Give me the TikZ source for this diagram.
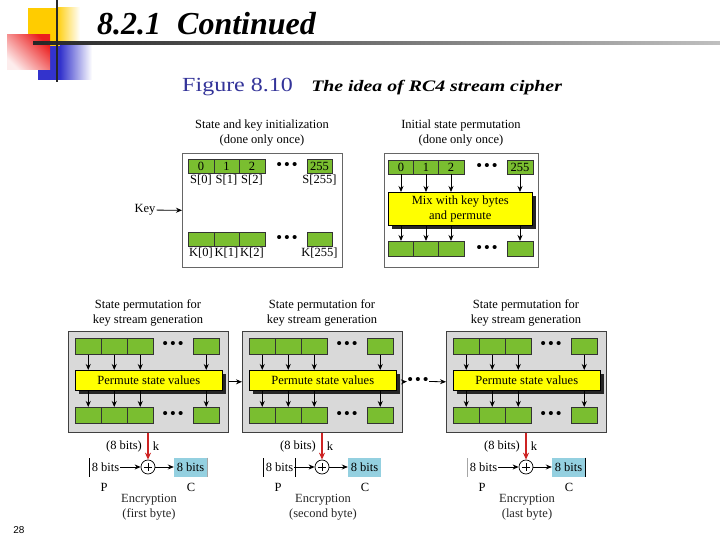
\documentclass[tikz,border=0pt]{standalone}
\usepackage{fontspec}
\setmainfont{Liberation Serif}
\setsansfont{Liberation Sans}
\usetikzlibrary{arrows.meta,shadows}
\definecolor{cgreen}{RGB}{122,190,48}
\definecolor{cyellow}{RGB}{255,255,0}
\definecolor{cgray}{RGB}{217,217,217}
\definecolor{cblue}{RGB}{148,208,224}
\definecolor{cred}{RGB}{205,35,35}
\definecolor{ctitle}{RGB}{51,51,153}
\definecolor{cgold}{RGB}{255,204,0}
\definecolor{cdeepblue}{RGB}{51,51,204}
\definecolor{cbright}{RGB}{235,30,30}
\tikzset{
  ft/.style={font=\fontsize{12.5}{15}\selectfont},
  txt/.style={ft, inner sep=1pt},
  cellbase/.style={draw=black!80, line width=0.5pt, fill=cgreen, inner sep=0pt, anchor=north west, ft},
  topcell/.style={cellbase, minimum width=25.5pt, minimum height=14pt},
  gcell/.style={cellbase, minimum width=26pt, minimum height=16pt},
  outerbox/.style={draw=black!60, fill=white, line width=0.6pt, anchor=north west, inner sep=0pt},
  graybox/.style={draw=black!75, fill=cgray, line width=0.6pt, anchor=north west, inner sep=0pt},
  ybox/.style={draw=black, fill=cyellow, line width=0.5pt, anchor=north west, inner sep=0pt, ft, align=center,
    drop shadow={shadow xshift=3.5pt, shadow yshift=-3.5pt, fill=black!85, opacity=1}},
  dotsn/.style={font=\fontsize{15}{15}\selectfont\bfseries, inner sep=0.5pt},
  arr/.style={-{Stealth[length=6pt,width=5pt]}, line width=0.8pt, black},
  redarr/.style={-{Stealth[length=7pt,width=6pt]}, line width=1.4pt, cred},
  xor/.style={circle, draw=black, line width=0.7pt, minimum size=14pt, inner sep=0pt, fill=white},
  cbox/.style={fill=cblue, minimum width=33pt, minimum height=19pt, inner sep=0pt, ft},
  bar/.style={line width=0.6pt, black}
}
\newcommand\ksbox[2]{%
  \node[txt, align=center] (#1ttl) at (#2+80,312.5) {State permutation for\\key stream generation};
  \node[graybox, minimum width=160pt, minimum height=101pt] (#1box) at (#2,331) {};
  \node[gcell] (#1a0) at (#2+7,338) {};
  \node[gcell] (#1a1) at (#2+33,338) {};
  \node[gcell] (#1a2) at (#2+59,338) {};
  \node[gcell] (#1a3) at (#2+125,338) {};
  \node[dotsn] (#1ad) at (#2+105,345) {•\,•\,•};
  \node[ybox, minimum width=147pt, minimum height=20pt] (#1y) at (#2+7,370) {Permute state values};
  \node[gcell] (#1b0) at (#2+7,407) {};
  \node[gcell] (#1b1) at (#2+33,407) {};
  \node[gcell] (#1b2) at (#2+59,407) {};
  \node[gcell] (#1b3) at (#2+125,407) {};
  \node[dotsn] (#1bd) at (#2+105,415) {•\,•\,•};
  \foreach \j in {0,1,2,3}{
    \draw[arr] (#1a\j.south) -- (#1a\j.south |- #1y.north);
    \draw[arr] (#1b\j.north |- #1y.south) -- (#1b\j.north);
  }
}
\newcommand\encr[3]{%
  \node[xor] (#1x) at (#2,467) {};
  \draw[line width=0.7pt] (#1x.center) +(-4.2,0) -- +(4.2,0);
  \draw[line width=0.7pt] (#1x.center) +(0,-4.2) -- +(0,4.2);
  \node[txt] (#1bits) at (#2-24,446) {(8 bits)};
  \node[txt] (#1k) at (#2+8,446) {k};
  \node[txt] (#1p) at (#2-42.5,467) {8 bits};
  \node[cbox] (#1c) at (#2+42.5,467) {8 bits};
  \node[txt] (#1pl) at (#2-44,487) {P};
  \node[txt] (#1cl) at (#2+43,487) {C};
  \node[txt, align=center, text=black!85] (#1cap) at (#2+1,507) {Encryption\\(#3)};
  \draw[arr] (#1p) -- (#1x);
  \draw[arr] (#1x) -- (#1c);
}
\begin{document}
\begin{tikzpicture}[x=1pt,y=-1pt]
\useasboundingbox (0,0) rectangle (720,540);
\fill[white] (0,0) rectangle (720,540);
% ---- slide decoration
\fill[cgold] (28,8) rectangle (56,46);
\shade[left color=cgold, right color=white] (56,8) rectangle (80,46);
\fill[cdeepblue] (38,46) rectangle (60,80);
\shade[left color=cdeepblue, right color=white] (60,46) rectangle (92,80);
\shade[top color=cbright, bottom color=cbright!8, shading angle=-45] (7,35) rectangle (50,70);
\shade[left color=black!85, right color=black!25] (33,41.6) rectangle (720,44.6);
\draw[line width=2.5pt, black!85] (57,0) -- (57,82);
% ---- headings
\node[anchor=base west, inner sep=0pt, font=\fontsize{32}{36}\selectfont\bfseries\itshape] (head) at (97,35) {8.2.1\ \ Continued};
\node[anchor=base west, inner sep=0pt, xscale=1.2, text=ctitle, font=\fontsize{20}{24}\selectfont] (fig) at (182,92) {Figure 8.10};
\node[anchor=base west, inner sep=0pt, xscale=1.24, font=\fontsize{16}{19}\selectfont\bfseries\itshape] (figt) at (311,92) {The idea of RC4 stream cipher};
% ---- state and key initialization
\node[txt, align=center] (initttl) at (262,133.5) {State and key initialization\\(done only once)};
\node[outerbox, minimum width=160pt, minimum height=114pt] (initbox) at (182,153) {};
\node[topcell] (s0) at (188,159) {0};
\node[topcell] (s1) at (213.5,159) {1};
\node[topcell] (s2) at (239,159) {2};
\node[topcell] (s3) at (306.5,159) {255};
\node[dotsn] (sd) at (287,166) {•\,•\,•};
\node[txt, anchor=north] (ls0) at (s0.south) {S[0]};
\node[txt, anchor=north] (ls1) at (s1.south) {S[1]};
\node[txt, anchor=north] (ls2) at (s2.south) {S[2]};
\node[txt, anchor=north] (ls3) at (s3.south) {S[255]};
\node[topcell] (k0) at (188,232) {};
\node[topcell] (k1) at (213.5,232) {};
\node[topcell] (k2) at (239,232) {};
\node[topcell] (k3) at (306.5,232) {};
\node[dotsn] (kd) at (287,239) {•\,•\,•};
\node[txt, anchor=north] (lk0) at (k0.south) {K[0]};
\node[txt, anchor=north] (lk1) at (k1.south) {K[1]};
\node[txt, anchor=north] (lk2) at (k2.south) {K[2]};
\node[txt, anchor=north] (lk3) at (k3.south) {K[255]};
\node[txt] (key) at (145,210) {Key};
\draw[arr] (key) -- (initbox.west);
% ---- initial state permutation
\node[txt, align=center] (permttl) at (461,133.5) {Initial state permutation\\(done only once)};
\node[outerbox, minimum width=154pt, minimum height=114pt] (permbox) at (384,153) {};
\node[topcell] (t0) at (388,160) {0};
\node[topcell] (t1) at (413,160) {1};
\node[topcell] (t2) at (438,160) {2};
\node[topcell] (t3) at (507,160) {255};
\node[dotsn] (td) at (487,167) {•\,•\,•};
\node[ybox, minimum width=144pt, minimum height=33pt] (mix) at (388,192) {Mix with key bytes\\and permute};
\node[topcell, minimum height=15pt] (u0) at (388,241) {};
\node[topcell, minimum height=15pt] (u1) at (413,241) {};
\node[topcell, minimum height=15pt] (u2) at (438,241) {};
\node[topcell, minimum height=15pt] (u3) at (507,241) {};
\node[dotsn] (ud) at (487,249) {•\,•\,•};
\foreach \j in {0,1,2,3}{
  \draw[arr] (t\j.south) -- (t\j.south |- mix.north);
  \draw[arr] (u\j.north |- mix.south) -- (u\j.north);
}
% ---- key stream generation boxes
\ksbox{ka}{68}
\ksbox{kb}{242}
\ksbox{kc}{446}
\draw[arr] (kabox.east) -- (kbbox.west);
\node[dotsn] (mdots) at (418,381.5) {•\,•\,•};
\draw[arr] (kbbox.east) -- (mdots.west);
\draw[arr] (mdots.east) -- (kcbox.west);
% ---- encryption
\encr{ea}{148}{first byte}
\encr{eb}{322}{second byte}
\encr{ec}{526}{last byte}
\draw[redarr] (kabox.south -| eax.north) -- (eax.north);
\draw[redarr] (kbbox.south -| ebx.north) -- (ebx.north);
\draw[redarr] (kcbox.south -| ecx.north) -- (ecx.north);
% byte boundary bars
\draw[bar] (148-59,458) -- (148-59,477);
\draw[bar, black!35] (148+59,457.5) -- (148+59,476.5);
\draw[bar] (322-59,458) -- (322-59,477);
\draw[bar] (322-27,458) -- (322-27,477);
\draw[bar, black!35] (526-59,458) -- (526-59,477);
\draw[bar] (526+59,457.5) -- (526+59,476.5);
% ---- page number
\node[font=\sffamily\fontsize{10}{12}\selectfont, inner sep=0pt] (pg) at (19,530) {28};
\end{tikzpicture}
\end{document}
